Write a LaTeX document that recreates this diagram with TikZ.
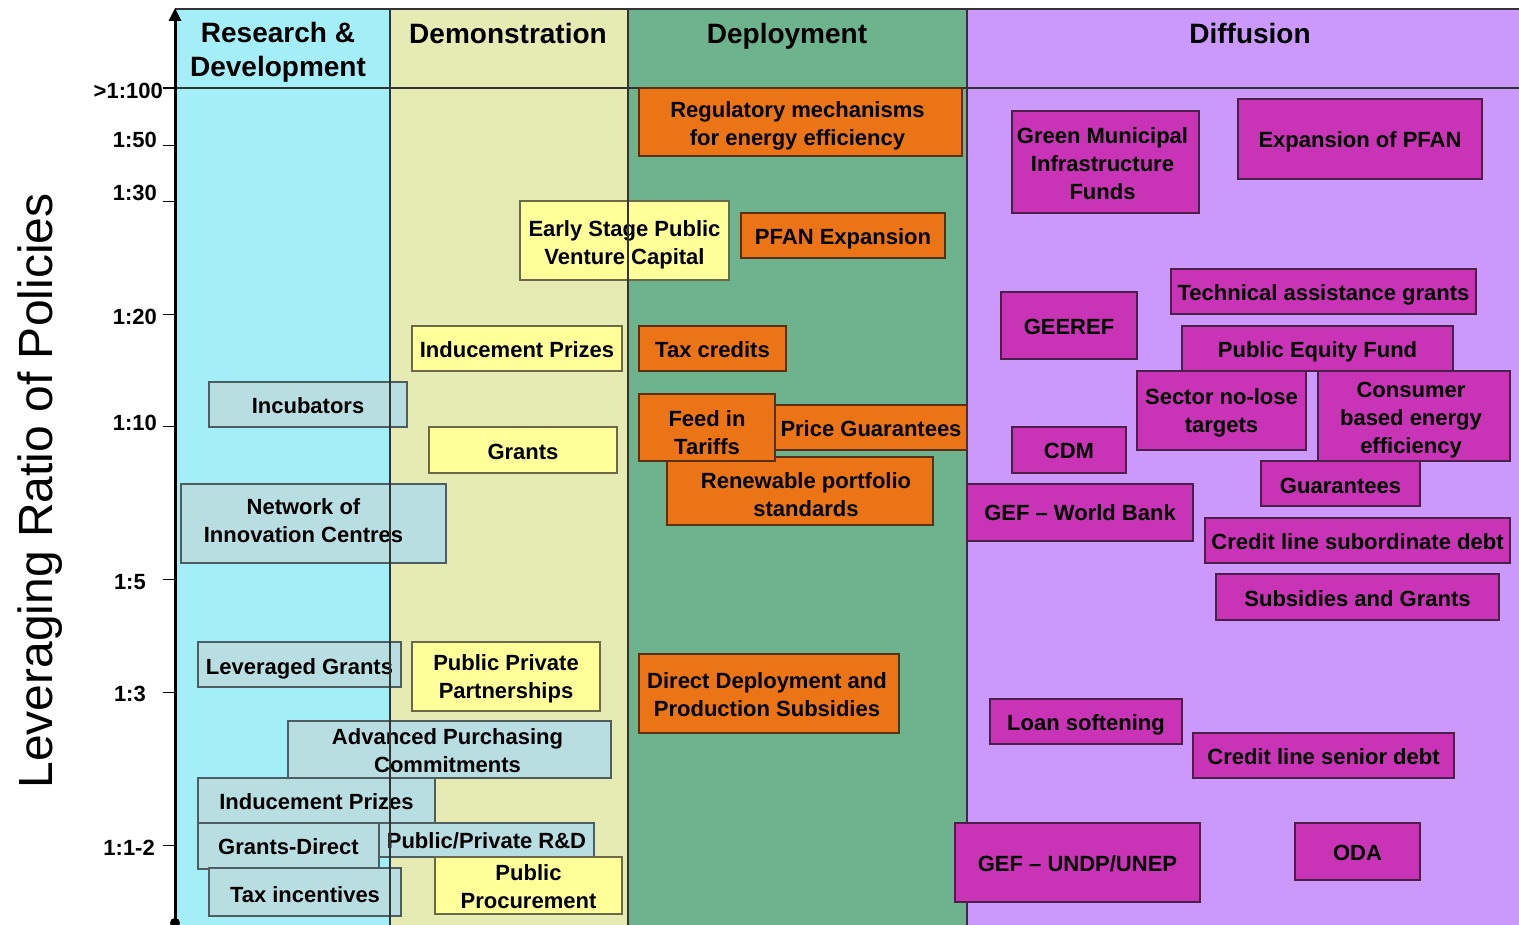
\documentclass[tikz,border=0pt]{standalone}
\usepackage{fontspec}
\setmainfont{Liberation Sans}
\usetikzlibrary{arrows.meta}

% column backgrounds
\definecolor{colRD}{HTML}{A4EEF8}
\definecolor{colDemo}{HTML}{E6EAB3}
\definecolor{colDep}{HTML}{6DB38D}
\definecolor{colDif}{HTML}{CB99FC}
% policy boxes
\definecolor{boxRD}{HTML}{B9DEE2}
\definecolor{boxDemo}{HTML}{FFFF99}
\definecolor{boxDep}{HTML}{EB7416}
\definecolor{boxDif}{HTML}{C934B6}
\definecolor{edgeRD}{HTML}{4E5E60}
\definecolor{edgeDemo}{HTML}{6A6A4A}
\definecolor{edgeDep}{HTML}{5A3010}
\definecolor{edgeDif}{HTML}{4A1F48}
\definecolor{gridcol}{HTML}{333333}

\tikzset{
  policy/.style={line width=1.4pt, inner sep=0pt, outer sep=0pt},
  policytext/.style={inner sep=0pt, align=center,
    font=\fontsize{22}{28}\selectfont\bfseries, text=black},
  rdbox/.style={policy, draw=edgeRD, fill=boxRD},
  demobox/.style={policy, draw=edgeDemo, fill=boxDemo},
  depbox/.style={policy, draw=edgeDep, fill=boxDep},
  difbox/.style={policy, draw=edgeDif, fill=boxDif},
  phase/.style={align=center, font=\fontsize{28}{34}\selectfont\bfseries},
  gridline/.style={draw=gridcol, line width=1.3pt},
  ticklabel/.style={anchor=east, inner sep=0pt, font=\fontsize{22}{26}\selectfont\bfseries},
}

% box given by its corners (x1,y1) and (x2,y2), y growing downwards;
% the optional argument nudges the text inside the box
\newcommand\policybox[8][yshift=-1pt]{%
  \pgfmathsetmacro\pbW{#6-#4}%
  \pgfmathsetmacro\pbH{#7-#5}%
  \pgfmathsetmacro\pbX{(#4+#6)/2}%
  \pgfmathsetmacro\pbY{(#5+#7)/2}%
  \node[#2, minimum width=\pbW pt, minimum height=\pbH pt] (#3) at (\pbX,\pbY) {};%
  \node[policytext, #1] (#3-text) at (#3.center) {#8};%
}

\begin{document}
\begin{tikzpicture}[x=1pt, y=-1pt]
\useasboundingbox (0,0) rectangle (1519,925);

% phase columns
\fill[colRD]   (175,9) rectangle (390,925);
\fill[colDemo] (390,9) rectangle (628,925);
\fill[colDep]  (628,9) rectangle (967,925);
\fill[colDif]  (967,9) rectangle (1519,925);
\draw[gridline] (175,9) -- (1519,9);
\draw[gridline] (175,88) -- (1519,88);
\draw[gridline] (967,9) -- (967,925);

% phase headings
\node[phase] (hRD)   at (278,52) {Research \&\\Development};
\node[phase] (hDemo) at (508,33.5) {Demonstration};
\node[phase] (hDep)  at (787,36) {Deployment};
\node[phase] (hDif)  at (1250,33.5) {Diffusion};

% Research & Development
\policybox{rdbox}{incub}{209}{382}{407}{427}{Incubators}
\policybox[xshift=-10pt, yshift=3pt]{rdbox}{network}{181}{484}{446}{563}{Network of\\Innovation Centres}
\policybox[yshift=-4pt]{rdbox}{levgrants}{198}{642}{401}{687}{Leveraged Grants}
\policybox[xshift=-2pt, yshift=-1pt]{rdbox}{advpurch}{288}{721}{611}{778}{Advanced Purchasing\\Commitments}
\policybox{rdbox}{indprizesRD}{198}{778}{435}{823}{Inducement Prizes}
\policybox{rdbox}{grantsdirect}{198}{823}{379}{869}{Grants-Direct}
\policybox{rdbox}{pubprivrd}{379}{823}{594}{857}{Public/Private R\&D}
\policybox[yshift=-3pt]{rdbox}{taxinc}{209}{868}{401}{916}{Tax incentives}

% Demonstration
\policybox[yshift=-4pt]{demobox}{earlystage}{520}{201}{729}{280}{Early Stage Public\\Venture Capital}
\policybox{demobox}{indprizesDemo}{412}{326}{622}{371}{Inducement Prizes}
\policybox[yshift=-2pt]{demobox}{grantsDemo}{429}{427}{617}{473}{Grants}
\policybox[yshift=-2pt]{demobox}{ppp}{412}{642}{600}{711}{Public Private\\Partnerships}
\policybox{demobox}{pubproc}{435}{857}{622}{914}{Public\\Procurement}

% Deployment
\policybox[xshift=-3pt, yshift=-4pt]{depbox}{regmech}{639}{88}{962}{156}{Regulatory mechanisms\\for energy efficiency}
\policybox[yshift=-3pt]{depbox}{pfanexp}{741}{213}{945}{258}{PFAN Expansion}
\policybox{depbox}{taxcredits}{639}{326}{786}{371}{Tax credits}
\policybox[xshift=6pt, yshift=-4pt]{depbox}{renew}{667}{457}{933}{525}{Renewable portfolio\\standards}
\policybox{depbox}{priceguar}{775}{405}{967}{450}{Price Guarantees}
\policybox[yshift=-5pt]{depbox}{feedin}{639}{394}{775}{461}{Feed in\\Tariffs}
\policybox[xshift=-2pt, yshift=-1pt]{depbox}{directdep}{639}{654}{899}{733}{Direct Deployment and\\Production Subsidies}

% Diffusion
\policybox[xshift=-3pt, yshift=-1.5pt]{difbox}{greenmuni}{1012}{111}{1199}{213}{Green Municipal\\Infrastructure\\Funds}
\policybox[yshift=-3pt]{difbox}{exppfan}{1238}{99}{1482}{179}{Expansion of PFAN}
\policybox[yshift=-3pt]{difbox}{techassist}{1171}{269}{1476}{314}{Technical assistance grants}
\policybox{difbox}{geeref}{1001}{292}{1137}{359}{GEEREF}
\policybox[yshift=-3pt]{difbox}{pubequity}{1182}{326}{1453}{371}{Public Equity Fund}
\policybox[yshift=-2pt]{difbox}{sector}{1137}{371}{1306}{450}{Sector no-lose\\targets}
\policybox[xshift=-3pt, yshift=-4pt]{difbox}{consumer}{1318}{371}{1510}{461}{Consumer\\based energy\\efficiency}
\policybox{difbox}{cdm}{1012}{427}{1126}{473}{CDM}
\policybox[yshift=-2pt]{difbox}{guarantees}{1261}{461}{1420}{506}{Guarantees}
\policybox[yshift=0pt]{difbox}{gefwb}{967}{484}{1193}{541}{GEF – World Bank}
\policybox{difbox}{creditsub}{1205}{518}{1510}{563}{Credit line subordinate debt}
\policybox[yshift=-2pt]{difbox}{subsidies}{1216}{574}{1499}{620}{Subsidies and Grants}
\policybox[yshift=-3pt]{difbox}{loansoft}{990}{699}{1182}{744}{Loan softening}
\policybox{difbox}{creditsen}{1193}{733}{1454}{778}{Credit line senior debt}
\policybox{difbox}{gefundp}{955}{823}{1200}{902}{GEF – UNDP/UNEP}
\policybox{difbox}{oda}{1295}{823}{1420}{880}{ODA}

% column dividers over the boxes
\draw[gridline] (390,9) -- (390,925);
\draw[gridline] (628,9) -- (628,925);

% leverage axis
\coordinate (axisBottom) at (175,923);
\coordinate (axisTop) at (175,8);
\draw[line width=3pt, -{Triangle[length=13pt,width=12pt]}] (axisBottom) -- (axisTop);
\fill (axisBottom) circle (5);

\foreach \ty/\lab/\lx/\ly [count=\i] in {
  88/{>1:100}/163/91, 145.7/{1:50}/157/140, 201.7/{1:30}/157/193,
  314.5/{1:20}/157/317, 426.7/{1:10}/157/423, 579.3/{1:5}/146/582,
  692.3/{1:3}/146/694, 845.7/{1:1-2}/155/848} {
  \draw[line width=1.3pt] (163,\ty) -- (175,\ty);
  \node[ticklabel] (tick\i) at (\lx,\ly) {\lab};
}

\node[rotate=90, font=\fontsize{48}{52}\selectfont] (axislabel) at (40,491)
  {Leveraging Ratio of Policies};
\end{tikzpicture}
\end{document}
